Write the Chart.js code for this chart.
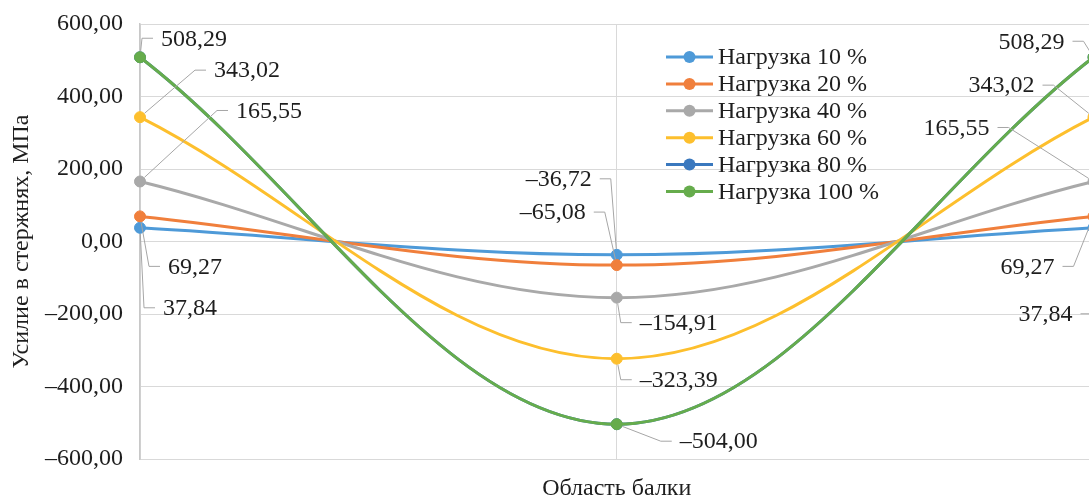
<!DOCTYPE html>
<html>
<head>
<meta charset="utf-8">
<script src="https://cdn.jsdelivr.net/npm/chart.js@4.4.1/dist/chart.umd.min.js"></script>
<style>
html, body { margin: 0; padding: 0; overflow: hidden; background: #fff; }
#wrap { width: 1100px; height: 498px; }
</style>
</head>
<body>
<div id="wrap"><canvas id="beamChart"></canvas></div>
<script>
// Данные: участки балки и усилия по нагрузкам
const categories = ['Начало', 'Середина', 'Конец'];
const load10 = [37.84, -36.72, 37.84];
const load20 = [69.27, -65.08, 69.27];
const load40 = [165.55, -154.91, 165.55];
const load60 = [343.02, -323.39, 343.02];
const load80 = [508.29, -504.00, 508.29];
const load100 = [508.29, -504.00, 508.29];
const yTicks = [-600, -400, -200, 0, 200, 400, 600];

const seriesNames = ['Нагрузка 10 %', 'Нагрузка 20 %', 'Нагрузка 40 %', 'Нагрузка 60 %', 'Нагрузка 80 %', 'Нагрузка 100 %'];
const seriesValues = [load10, load20, load40, load60, load80, load100];
const seriesColors = ['#4E9AD8', '#F07F3C', '#A9A9A9', '#FDBF2D', '#3A78BE', '#66AC4C'];

// Смещения подписей от точек [dx, dy, выравнивание]
const labelPlacement = [
    [[23, 80, 'left'], [-25, -76, 'right'], [-21, 86, 'right']],
    [[28, 50, 'left'], [-31, -53, 'right'], [-39, 50, 'right']],
    [[96, -71, 'left'], [23, 25, 'left'], [-104, -54, 'right']],
    [[74, -47, 'left'], [23, 21, 'left'], [-59, -32, 'right']],
    null,
    [[21, -19, 'left'], [63, 17, 'left'], [-29, -16, 'right']]
];

const FONT = '"Liberation Serif", "Times New Roman", serif';
const TEXT = '#1e1e1e';

const fmt = v => (v < 0 ? '–' : '') + Math.abs(v).toFixed(2).replace('.', ',');

// Подписи данных с выносками
const leaderLabels = {
    id: 'leaderLabels',
    afterDatasetsDraw(chart) {
        const ctx = chart.ctx;
        ctx.save();
        ctx.font = '24px ' + FONT;
        ctx.textBaseline = 'middle';
        chart.data.datasets.forEach((ds, di) => {
            const place = labelPlacement[di];
            if (!place) return;
            const meta = chart.getDatasetMeta(di);
            meta.data.forEach((pt, i) => {
                const [dx, dy, side] = place[i];
                const tx = pt.x + dx, ty = pt.y + dy;
                const dir = side === 'left' ? -1 : 1;
                const hEnd = tx + dir * 8, elbow = tx + dir * 19;
                const vx = elbow - pt.x, vy = ty - pt.y, len = Math.hypot(vx, vy) || 1;
                ctx.strokeStyle = '#A6A6A6';
                ctx.lineWidth = 1;
                ctx.beginPath();
                ctx.moveTo(pt.x + vx / len * 6, pt.y + vy / len * 6);
                ctx.lineTo(elbow, ty);
                ctx.lineTo(hEnd, ty);
                ctx.stroke();
                ctx.fillStyle = TEXT;
                ctx.textAlign = side;
                ctx.fillText(fmt(ds.data[i]), tx, ty + 1);
            });
        });
        ctx.restore();
    }
};

// Легенда внутри области графика
const innerLegend = {
    id: 'innerLegend',
    afterDraw(chart) {
        const ctx = chart.ctx;
        ctx.save();
        ctx.font = '24px ' + FONT;
        ctx.textBaseline = 'middle';
        ctx.textAlign = 'left';
        chart.data.datasets.forEach((ds, i) => {
            const y = 57 + i * 26.9;
            ctx.strokeStyle = ds.borderColor;
            ctx.lineWidth = 3;
            ctx.beginPath();
            ctx.moveTo(666, y);
            ctx.lineTo(713, y);
            ctx.stroke();
            ctx.fillStyle = ds.borderColor;
            ctx.beginPath();
            ctx.arc(689.5, y, 6, 0, Math.PI * 2);
            ctx.fill();
            ctx.fillStyle = TEXT;
            ctx.fillText(ds.label, 718, y + 1);
        });
        ctx.restore();
    }
};

new Chart(document.getElementById('beamChart'), {
    type: 'line',
    data: {
        labels: categories,
        datasets: seriesValues.map((vals, i) => ({
            label: seriesNames[i],
            data: vals,
            borderColor: seriesColors[i],
            backgroundColor: seriesColors[i],
            pointBackgroundColor: seriesColors[i],
            pointBorderColor: seriesColors[i],
            pointBorderWidth: 1,
            pointRadius: 5.5,
            borderWidth: 3,
            tension: 0.35,
            fill: false,
            order: seriesValues.length - i
        }))
    },
    options: {
        responsive: true,
        maintainAspectRatio: false,
        animation: false,
        layout: { padding: { top: 24, right: 6, bottom: 0, left: 0 } },
        plugins: {
            legend: { display: false },
            tooltip: { enabled: false }
        },
        scales: {
            x: {
                offset: false,
                ticks: { display: false },
                grid: { color: '#D9D9D9', lineWidth: 1, drawTicks: false },
                border: { color: '#D9D9D9' },
                title: {
                    display: true,
                    text: 'Область балки',
                    color: TEXT,
                    font: { family: FONT, size: 24, lineHeight: 0.75 },
                    padding: { top: 0, bottom: 0 }
                },
                afterFit(scale) { scale.height = 39; }
            },
            y: {
                min: -600,
                max: 600,
                afterBuildTicks(scale) { scale.ticks = yTicks.map(v => ({ value: v })); },
                ticks: {
                    color: TEXT,
                    padding: 17,
                    font: { family: FONT, size: 24 },
                    callback: v => fmt(v)
                },
                grid: { color: '#D9D9D9', lineWidth: 1, drawTicks: false },
                border: { color: '#C8C8C8', width: 1.5 },
                title: {
                    display: true,
                    text: 'Усилие в стержнях, МПа',
                    color: TEXT,
                    font: { family: FONT, size: 24 },
                    padding: { top: 7, bottom: 0 }
                },
                afterFit(scale) {
                    scale.width = 140;
                    scale.paddingTop = 0;
                    scale.paddingBottom = 0;
                }
            }
        }
    },
    plugins: [leaderLabels, innerLegend]
});
</script>
</body>
</html>
